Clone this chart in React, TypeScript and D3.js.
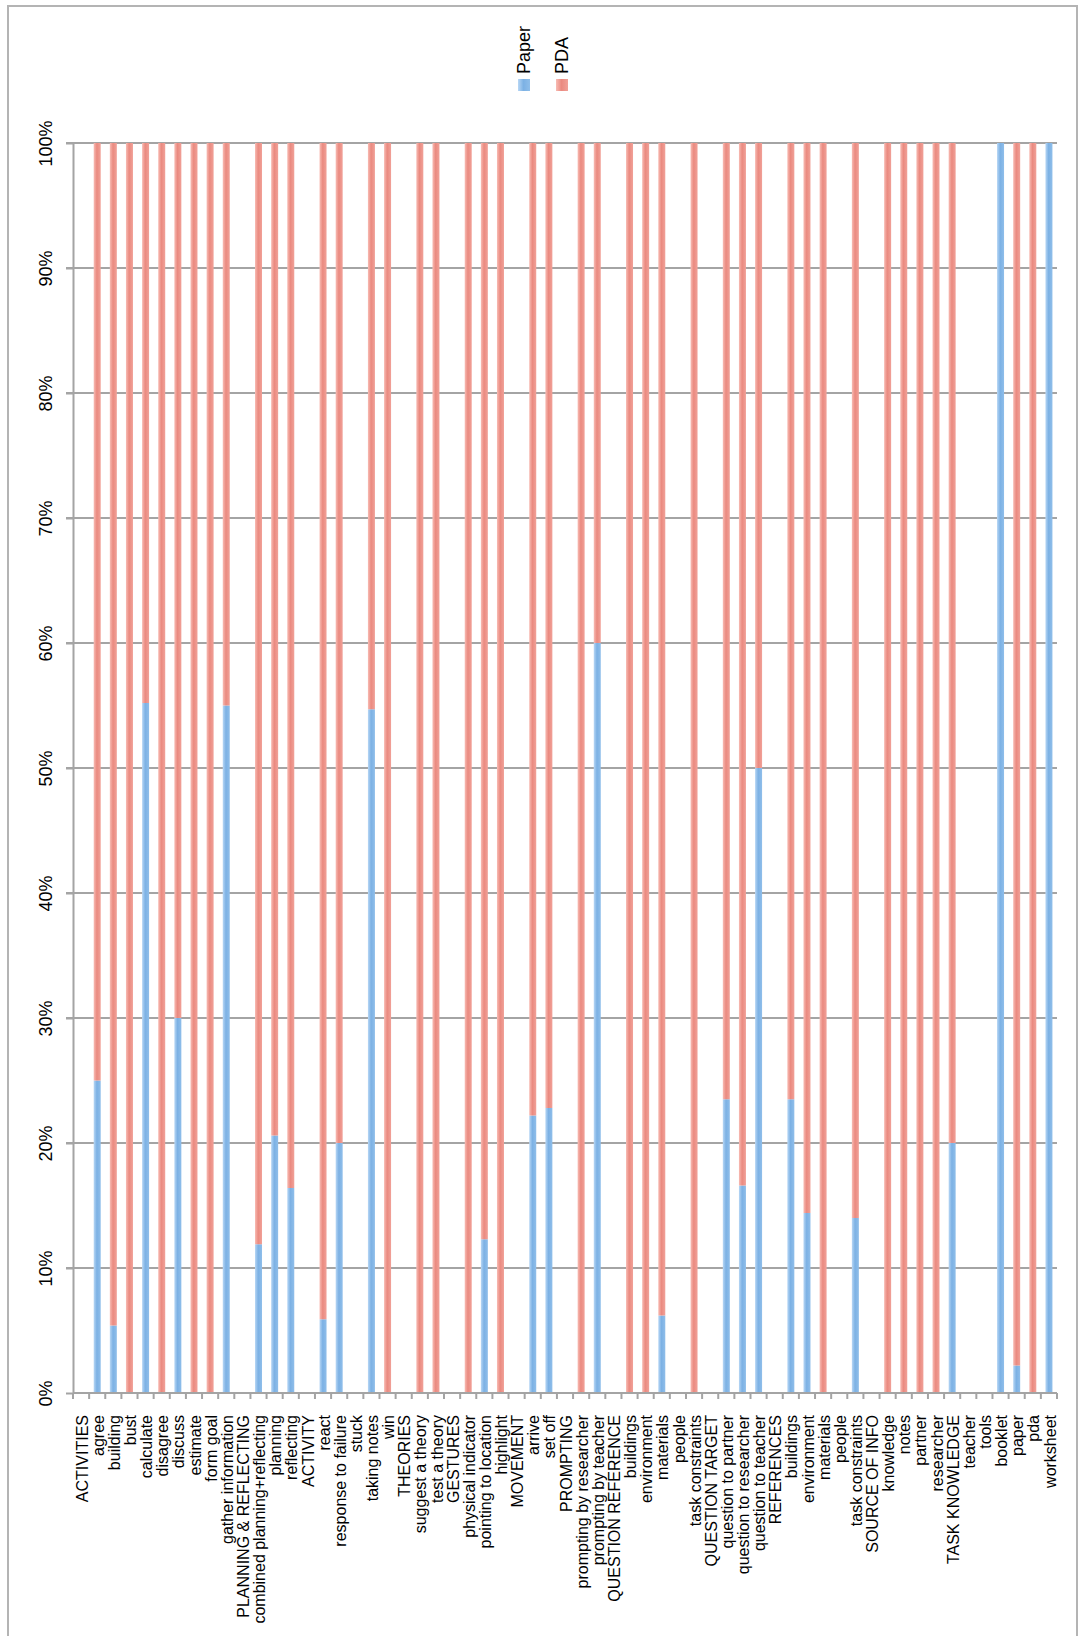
import { useRef, useEffect } from 'react';
import * as d3 from 'd3';

// category labels along the bottom (group headers have no bars)
const categories = [
  'ACTIVITIES', 'agree', 'building', 'bust', 'calculate', 'disagree', 'discuss', 'estimate', 'form goal',
  'gather information', 'PLANNING & REFLECTING', 'combined planning+reflecting', 'planning', 'reflecting',
  'ACTIVITY', 'react', 'response to failure', 'stuck', 'taking notes', 'win', 'THEORIES', 'suggest a theory',
  'test a theory', 'GESTURES', 'physical indicator', 'pointing to location', 'highlight', 'MOVEMENT', 'arrive',
  'set off', 'PROMPTING', 'prompting by researcher', 'prompting by teacher', 'QUESTION REFERENCE', 'buildings',
  'environment', 'materials', 'people', 'task constraints', 'QUESTION TARGET', 'question to partner',
  'question to researcher', 'question to teacher', 'REFERENCES', 'buildings', 'environment', 'materials', 'people',
  'task constraints', 'SOURCE OF INFO', 'knowledge', 'notes', 'partner', 'researcher', 'TASK KNOWLEDGE', 'teacher',
  'tools', 'booklet', 'paper', 'pda', 'worksheet',
];

// share of Paper (%), null = no data
const paper: (number | null)[] = [
  null, 25, 5.4, 0, 55.2, 0, 30, 0, 0,
  55, null, 11.9, 20.6, 16.4,
  null, 5.9, 20, null, 54.7, 0, null, 0,
  0, null, 0, 12.3, 0, null, 22.2,
  22.8, null, 0, 60, null, 0,
  0, 6.2, null, 0, null, 23.5,
  16.6, 50, null, 23.5, 14.4, 0, null,
  14, null, 0, 0, 0, 0, 20, null,
  null, 100, 2.2, 0, 100,
];

// share of PDA (%)
const pda: (number | null)[] = [
  null, 75, 94.6, 100, 44.8, 100, 70, 100, 100,
  45, null, 88.1, 79.4, 83.6,
  null, 94.1, 80, null, 45.3, 100, null, 100,
  100, null, 100, 87.7, 100, null, 77.8,
  77.2, null, 100, 40, null, 100,
  100, 93.8, null, 100, null, 76.5,
  83.4, 50, null, 76.5, 85.6, 100, null,
  86, null, 100, 100, 100, 100, 80, null,
  null, 0, 97.8, 100, 0,
];

const series = ['Paper', 'PDA'];
const yTicks = [0, 0.1, 0.2, 0.3, 0.4, 0.5, 0.6, 0.7, 0.8, 0.9, 1];

const W = 1080;
const H = 1636;

const App = () => {
  const svgRef = useRef<SVGSVGElement | null>(null);

  useEffect(() => {
    const svg = d3.select(svgRef.current);
    svg.selectAll('*').remove();

    const margin = { top: 143, right: 1057, bottom: 1393, left: 73 };
    const font = '"Liberation Sans", Arial, sans-serif';
    const grid = '#a4a4a4';

    const defs = svg.append('defs');
    const blue = defs.append('linearGradient').attr('id', 'gBlue').attr('x1', 0).attr('x2', 1).attr('y1', 0).attr('y2', 0);
    [['0%', '#b8d7f5'], ['45%', '#7cb1e4'], ['100%', '#8fbeea']].forEach(([o, c]) =>
      blue.append('stop').attr('offset', o).attr('stop-color', c));
    const red = defs.append('linearGradient').attr('id', 'gRed').attr('x1', 0).attr('x2', 1).attr('y1', 0).attr('y2', 0);
    [['0%', '#f8bcb4'], ['45%', '#ea8a80'], ['100%', '#f1a198']].forEach(([o, c]) =>
      red.append('stop').attr('offset', o).attr('stop-color', c));

    svg.append('rect').attr('width', W).attr('height', H).attr('fill', '#fff');
    // outer frame
    svg.append('rect')
      .attr('x', 8).attr('y', 6).attr('width', 1069).attr('height', 1700)
      .attr('fill', 'none').attr('stroke', '#b4b4b4').attr('stroke-width', 2);

    const idx = categories.map((_, i) => String(i));
    const x = d3.scaleBand()
      .domain(idx)
      .range([margin.left, margin.right])
      .paddingInner(0.566)
      .paddingOuter(0.283);
    const step = x.step();

    const y = d3.scaleLinear().domain([0, 1]).range([margin.bottom, margin.top]);

    // gridlines
    svg.append('g')
      .selectAll('line')
      .data(yTicks.slice(1))
      .join('line')
      .attr('x1', margin.left - 7)
      .attr('x2', margin.right)
      .attr('y1', d => y(d))
      .attr('y2', d => y(d))
      .attr('stroke', grid)
      .attr('stroke-width', 2);

    // y axis
    const yAxis = svg.append('g')
      .attr('transform', `translate(${margin.left},0)`)
      .call(d3.axisLeft(y).tickValues(yTicks).tickFormat(d3.format('.0%')).tickSize(7).tickSizeOuter(0));
    yAxis.select('.domain').attr('stroke', grid).attr('stroke-width', 2);
    yAxis.selectAll('.tick line').attr('stroke', grid).attr('stroke-width', 2);
    yAxis.selectAll('.tick text')
      .attr('x', 0).attr('dy', 0)
      .attr('transform', 'translate(-21,0) rotate(-90)')
      .attr('text-anchor', 'middle')
      .style('font-family', font)
      .style('font-size', '18px')
      .attr('fill', '#000');

    // bars
    const bw = x.bandwidth();
    const bars = svg.append('g');
    categories.forEach((_, i) => {
      const p = paper[i];
      const q = pda[i];
      if (p === null || q === null) return;
      const x0 = x(String(i)) as number;
      const s = (p + q) / 100;
      if (p > 0) {
        bars.append('rect')
          .attr('x', x0).attr('width', bw)
          .attr('y', y(p / 100 / s)).attr('height', y(0) - y(p / 100 / s))
          .attr('fill', 'url(#gBlue)');
      }
      if (q > 0) {
        bars.append('rect')
          .attr('x', x0).attr('width', bw)
          .attr('y', y(1)).attr('height', y(p / 100 / s) - y(1))
          .attr('fill', 'url(#gRed)');
      }
    });

    // x axis
    const xAxisG = svg.append('g');
    xAxisG.append('line')
      .attr('x1', margin.left).attr('x2', margin.right)
      .attr('y1', y(0)).attr('y2', y(0))
      .attr('stroke', grid).attr('stroke-width', 2);
    xAxisG.selectAll('line.tk')
      .data(d3.range(categories.length + 1))
      .join('line')
      .attr('class', 'tk')
      .attr('x1', d => margin.left + d * step)
      .attr('x2', d => margin.left + d * step)
      .attr('y1', y(0)).attr('y2', y(0) + 6)
      .attr('stroke', grid).attr('stroke-width', 2);
    xAxisG.selectAll('text')
      .data(categories)
      .join('text')
      .attr('transform', (_, i) => `translate(${(x(String(i)) as number) + bw / 2 + 1},${y(0) + 22}) rotate(-90)`)
      .attr('dy', '0.35em')
      .attr('text-anchor', 'end')
      .style('font-family', font)
      .style('font-size', '16px')
      .attr('fill', '#000')
      .text(d => d);

    // legend
    const legend = svg.append('g');
    const lx = [524, 562];
    series.forEach((s, i) => {
      legend.append('rect')
        .attr('x', lx[i] - 6).attr('y', 79).attr('width', 12).attr('height', 12)
        .attr('fill', i === 0 ? 'url(#gBlue)' : 'url(#gRed)');
      legend.append('text')
        .attr('transform', `translate(${lx[i]},74) rotate(-90)`)
        .attr('dy', '0.35em')
        .attr('text-anchor', 'start')
        .style('font-family', font)
        .style('font-size', '18px')
        .attr('fill', '#000')
        .text(s);
    });
  }, []);

  return (
    <svg ref={svgRef} width={W} height={H} style={{ position: 'absolute', left: 0, top: 0 }}></svg>
  );
};

export default App;
